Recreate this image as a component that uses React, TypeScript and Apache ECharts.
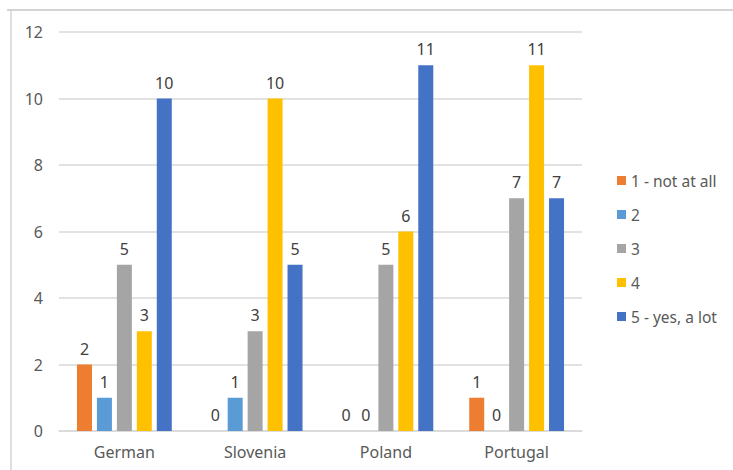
import React, { useEffect, useRef } from "react";
import * as echarts from "echarts";

const categories = ["German", "Slovenia", "Poland", "Portugal"];
const seriesNames = ["1 - not at all", "2", "3", "4", "5 - yes, a lot"];
const notAtAll = [2, 0, 0, 1];
const two = [1, 1, 0, 0];
const three = [5, 3, 5, 7];
const four = [3, 10, 6, 11];
const yesALot = [10, 5, 11, 7];
const colors = ["#ED7D31", "#5B9BD5", "#A5A5A5", "#FFC000", "#4472C4"];

const FONT = "'Noto Sans', 'Liberation Sans', sans-serif";

export default function App() {
  const ref = useRef<HTMLDivElement>(null);
  useEffect(() => {
    if (!ref.current) return;
    const chart = echarts.init(ref.current, undefined, { renderer: "svg" });
    const values = [notAtAll, two, three, four, yesALot];
    chart.setOption({
      animation: false,
      backgroundColor: "#ffffff",
      textStyle: { fontFamily: FONT },
      grid: { left: 59, right: 151, top: 32, bottom: 39, containLabel: false },
      legend: {
        orient: "vertical",
        left: 612,
        top: 167,
        itemWidth: 9,
        itemHeight: 9,
        itemGap: 17,
        icon: "rect",
        textStyle: { fontSize: 15.5, color: "#595959", fontFamily: FONT, lineHeight: 17 },
        data: seriesNames,
      },
      xAxis: {
        type: "category",
        data: categories,
        axisLine: { lineStyle: { color: "#d9d9d9", width: 1.5 } },
        axisTick: { show: false },
        axisLabel: { fontSize: 16, color: "#595959", margin: 13, fontFamily: FONT },
      },
      yAxis: {
        type: "value",
        min: 0,
        max: 12,
        interval: 2,
        axisLine: { show: false },
        axisTick: { show: false },
        splitLine: { lineStyle: { color: "#d9d9d9", width: 1.5 } },
        axisLabel: { fontSize: 16, color: "#595959", margin: 16, fontFamily: FONT },
      },
      graphic: [
        { type: "line", shape: { x1: 7, y1: 10, x2: 733, y2: 10 }, style: { stroke: "#d4d4d4", lineWidth: 2 } },
        { type: "line", shape: { x1: 11, y1: 9, x2: 11, y2: 470 }, style: { stroke: "#d4d4d4", lineWidth: 1.5 } },
      ],
      series: seriesNames.map((name, i) => ({
        name,
        type: "bar",
        data: values[i],
        barWidth: 15,
        barGap: "33%",
        itemStyle: { color: colors[i] },
        label: {
          show: true,
          position: "top",
          distance: 8,
          fontSize: 16,
          color: "#404040",
          fontFamily: FONT,
        },
      })),
    });
    return () => chart.dispose();
  }, []);
  return (
    <div
      ref={ref}
      style={{ position: "fixed", left: 0, top: 0, width: 733, height: 470 }}
    />
  );
}
